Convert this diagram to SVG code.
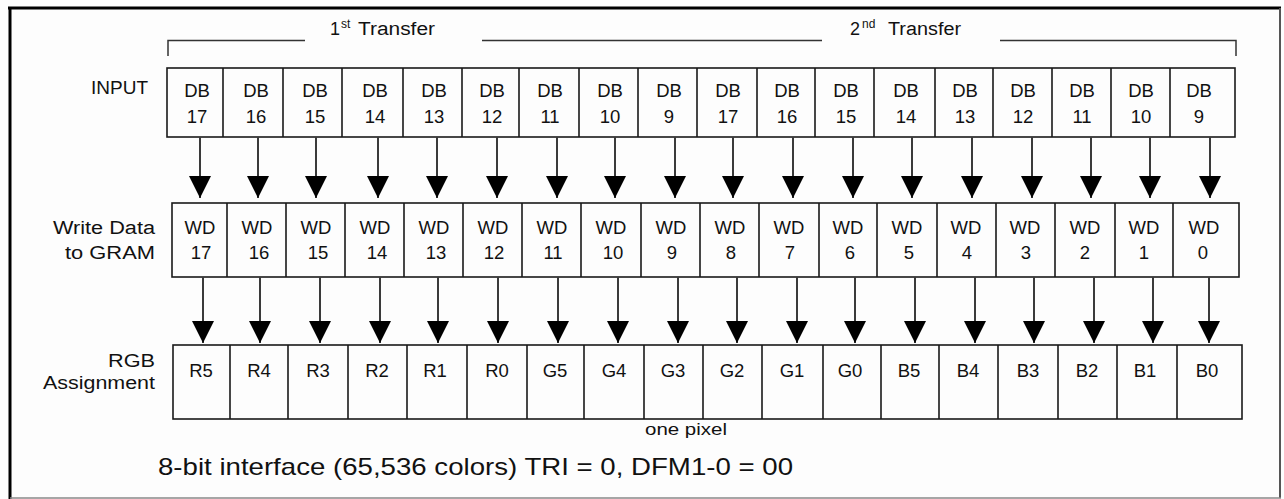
<svg xmlns="http://www.w3.org/2000/svg" width="1284" height="499" viewBox="0 0 1284 499">
<style>
text{font-family:"Liberation Sans",Arial,sans-serif;fill:#111}
.c{font-size:18.5px;text-anchor:middle}
.lab{font-size:18px;text-anchor:end}
.box{fill:none;stroke:#1a1a1a;stroke-width:1.6}
.div{stroke:#1a1a1a;stroke-width:1.6}
.conn line{stroke:#3a3a3a;stroke-width:2;marker-end:url(#ah)}
.br{fill:none;stroke:#333;stroke-width:1.5}
</style>
<defs>
<marker id="ah" viewBox="0 0 22 22" markerWidth="22" markerHeight="22" refX="22" refY="11" orient="auto" markerUnits="userSpaceOnUse">
<path d="M0,0 L22,11 L0,22 z" fill="#000"/>
</marker>
</defs>
<rect width="1284" height="499" fill="#fdfdfd"/>
<g id="frame">
<line x1="8" y1="8" x2="1281" y2="8" stroke="#000" stroke-width="3"/>
<line x1="10" y1="7" x2="10" y2="499" stroke="#000" stroke-width="3"/>
<line x1="1280" y1="8" x2="1280" y2="498" stroke="#555" stroke-width="2"/>
<line x1="10" y1="498" x2="1281" y2="498" stroke="#888" stroke-width="1.5"/>
</g>
<g id="transfer1">
<path class="br" d="M168,56 V40.5 H305 M482,40.5 H822"/>
<text x="330" y="35" font-size="18">1</text>
<text x="341" y="28" font-size="12">st</text>
<text x="358" y="35" font-size="18" textLength="77" lengthAdjust="spacingAndGlyphs">Transfer</text>
</g>
<g id="transfer2">
<path class="br" d="M1000,40.5 H1236 V56"/>
<text x="850" y="35" font-size="18">2</text>
<text x="862" y="28" font-size="12">nd</text>
<text x="888" y="35" font-size="18" textLength="73" lengthAdjust="spacingAndGlyphs">Transfer</text>
</g>
<g id="labels">
<text class="lab" x="148" y="94" textLength="57" lengthAdjust="spacingAndGlyphs">INPUT</text>
<text class="lab" x="155" y="234" textLength="102" lengthAdjust="spacingAndGlyphs">Write Data</text>
<text class="lab" x="155" y="259" textLength="90" lengthAdjust="spacingAndGlyphs">to GRAM</text>
<text class="lab" x="155" y="367" textLength="47" lengthAdjust="spacingAndGlyphs">RGB</text>
<text class="lab" x="155" y="389" textLength="112" lengthAdjust="spacingAndGlyphs">Assignment</text>
</g>
<g id="input-row">
<rect class="box" x="167" y="68" width="1068" height="69"/>
<path class="div" d="M223,68V137M283,68V137M342,68V137M403,68V137M462,68V137M519,68V137M579,68V137M638,68V137M697,68V137M757,68V137M815,68V137M874,68V137M935,68V137M993,68V137M1052,68V137M1111,68V137M1170,68V137"/>
<g id="db17a"><text class="c" x="197" y="97">DB</text><text class="c" x="197" y="123">17</text></g>
<g id="db16a"><text class="c" x="256" y="97">DB</text><text class="c" x="256" y="123">16</text></g>
<g id="db15a"><text class="c" x="315" y="97">DB</text><text class="c" x="315" y="123">15</text></g>
<g id="db14a"><text class="c" x="375" y="97">DB</text><text class="c" x="375" y="123">14</text></g>
<g id="db13a"><text class="c" x="434" y="97">DB</text><text class="c" x="434" y="123">13</text></g>
<g id="db12a"><text class="c" x="492" y="97">DB</text><text class="c" x="492" y="123">12</text></g>
<g id="db11a"><text class="c" x="550" y="97">DB</text><text class="c" x="550" y="123">11</text></g>
<g id="db10a"><text class="c" x="610" y="97">DB</text><text class="c" x="610" y="123">10</text></g>
<g id="db9a"><text class="c" x="669" y="97">DB</text><text class="c" x="669" y="123">9</text></g>
<g id="db17b"><text class="c" x="728" y="97">DB</text><text class="c" x="728" y="123">17</text></g>
<g id="db16b"><text class="c" x="787" y="97">DB</text><text class="c" x="787" y="123">16</text></g>
<g id="db15b"><text class="c" x="846" y="97">DB</text><text class="c" x="846" y="123">15</text></g>
<g id="db14b"><text class="c" x="906" y="97">DB</text><text class="c" x="906" y="123">14</text></g>
<g id="db13b"><text class="c" x="965" y="97">DB</text><text class="c" x="965" y="123">13</text></g>
<g id="db12b"><text class="c" x="1023" y="97">DB</text><text class="c" x="1023" y="123">12</text></g>
<g id="db11b"><text class="c" x="1082" y="97">DB</text><text class="c" x="1082" y="123">11</text></g>
<g id="db10b"><text class="c" x="1141" y="97">DB</text><text class="c" x="1141" y="123">10</text></g>
<g id="db9b"><text class="c" x="1199" y="97">DB</text><text class="c" x="1199" y="123">9</text></g>
</g>
<g id="wd-row">
<rect class="box" x="172" y="203" width="1067" height="74"/>
<path class="div" d="M227,203V277M286,203V277M345,203V277M404,203V277M463,203V277M522,203V277M581,203V277M641,203V277M700,203V277M759,203V277M819,203V277M877,203V277M937,203V277M996,203V277M1055,203V277M1115,203V277M1173,203V277"/>
<g id="wd17"><text class="c" x="200" y="234">WD</text><text class="c" x="201" y="259">17</text></g>
<g id="wd16"><text class="c" x="257" y="234">WD</text><text class="c" x="259" y="259">16</text></g>
<g id="wd15"><text class="c" x="316" y="234">WD</text><text class="c" x="318" y="259">15</text></g>
<g id="wd14"><text class="c" x="375" y="234">WD</text><text class="c" x="377" y="259">14</text></g>
<g id="wd13"><text class="c" x="434" y="234">WD</text><text class="c" x="436" y="259">13</text></g>
<g id="wd12"><text class="c" x="493" y="234">WD</text><text class="c" x="494" y="259">12</text></g>
<g id="wd11"><text class="c" x="552" y="234">WD</text><text class="c" x="553" y="259">11</text></g>
<g id="wd10"><text class="c" x="611" y="234">WD</text><text class="c" x="613" y="259">10</text></g>
<g id="wd9"><text class="c" x="671" y="234">WD</text><text class="c" x="672" y="259">9</text></g>
<g id="wd8"><text class="c" x="730" y="234">WD</text><text class="c" x="731" y="259">8</text></g>
<g id="wd7"><text class="c" x="789" y="234">WD</text><text class="c" x="790" y="259">7</text></g>
<g id="wd6"><text class="c" x="848" y="234">WD</text><text class="c" x="850" y="259">6</text></g>
<g id="wd5"><text class="c" x="907" y="234">WD</text><text class="c" x="909" y="259">5</text></g>
<g id="wd4"><text class="c" x="966" y="234">WD</text><text class="c" x="967" y="259">4</text></g>
<g id="wd3"><text class="c" x="1025" y="234">WD</text><text class="c" x="1026" y="259">3</text></g>
<g id="wd2"><text class="c" x="1085" y="234">WD</text><text class="c" x="1085" y="259">2</text></g>
<g id="wd1"><text class="c" x="1144" y="234">WD</text><text class="c" x="1144" y="259">1</text></g>
<g id="wd0"><text class="c" x="1204" y="234">WD</text><text class="c" x="1203" y="259">0</text></g>
</g>
<g id="rgb-row">
<rect class="box" x="173" y="345" width="1069" height="74"/>
<path class="div" d="M230,345V419M288,345V419M348,345V419M407,345V419M467,345V419M527,345V419M584,345V419M644,345V419M703,345V419M762,345V419M823,345V419M881,345V419M939,345V419M998,345V419M1058,345V419M1117,345V419M1177,345V419"/>
<g id="r5"><text class="c" x="201" y="377">R5</text></g>
<g id="r4"><text class="c" x="259" y="377">R4</text></g>
<g id="r3"><text class="c" x="318" y="377">R3</text></g>
<g id="r2"><text class="c" x="377" y="377">R2</text></g>
<g id="r1"><text class="c" x="435" y="377">R1</text></g>
<g id="r0"><text class="c" x="497" y="377">R0</text></g>
<g id="g5"><text class="c" x="555" y="377">G5</text></g>
<g id="g4"><text class="c" x="614" y="377">G4</text></g>
<g id="g3"><text class="c" x="673" y="377">G3</text></g>
<g id="g2"><text class="c" x="732" y="377">G2</text></g>
<g id="g1"><text class="c" x="792" y="377">G1</text></g>
<g id="g0"><text class="c" x="850" y="377">G0</text></g>
<g id="b5"><text class="c" x="909" y="377">B5</text></g>
<g id="b4"><text class="c" x="968" y="377">B4</text></g>
<g id="b3"><text class="c" x="1028" y="377">B3</text></g>
<g id="b2"><text class="c" x="1087" y="377">B2</text></g>
<g id="b1"><text class="c" x="1145" y="377">B1</text></g>
<g id="b0"><text class="c" x="1207" y="377">B0</text></g>
</g>
<g id="connectors" class="conn">
<line x1="200" y1="137" x2="200" y2="198"/>
<line x1="258" y1="137" x2="258" y2="198"/>
<line x1="316" y1="137" x2="316" y2="198"/>
<line x1="378" y1="137" x2="378" y2="198"/>
<line x1="437" y1="137" x2="437" y2="198"/>
<line x1="497" y1="137" x2="497" y2="198"/>
<line x1="557" y1="137" x2="557" y2="198"/>
<line x1="615" y1="137" x2="615" y2="198"/>
<line x1="675" y1="137" x2="675" y2="198"/>
<line x1="733" y1="137" x2="733" y2="198"/>
<line x1="793" y1="137" x2="793" y2="198"/>
<line x1="853" y1="137" x2="853" y2="198"/>
<line x1="912" y1="137" x2="912" y2="198"/>
<line x1="972" y1="137" x2="972" y2="198"/>
<line x1="1032" y1="137" x2="1032" y2="198"/>
<line x1="1091" y1="137" x2="1091" y2="198"/>
<line x1="1150" y1="137" x2="1150" y2="198"/>
<line x1="1210" y1="137" x2="1210" y2="198"/>
<line x1="203" y1="277" x2="203" y2="343"/>
<line x1="260" y1="277" x2="260" y2="343"/>
<line x1="320" y1="277" x2="320" y2="343"/>
<line x1="380" y1="277" x2="380" y2="343"/>
<line x1="438" y1="277" x2="438" y2="343"/>
<line x1="498" y1="277" x2="498" y2="343"/>
<line x1="558" y1="277" x2="558" y2="343"/>
<line x1="618" y1="277" x2="618" y2="343"/>
<line x1="678" y1="277" x2="678" y2="343"/>
<line x1="737" y1="277" x2="737" y2="343"/>
<line x1="797" y1="277" x2="797" y2="343"/>
<line x1="855" y1="277" x2="855" y2="343"/>
<line x1="915" y1="277" x2="915" y2="343"/>
<line x1="975" y1="277" x2="975" y2="343"/>
<line x1="1034" y1="277" x2="1034" y2="343"/>
<line x1="1094" y1="277" x2="1094" y2="343"/>
<line x1="1153" y1="277" x2="1153" y2="343"/>
<line x1="1209" y1="277" x2="1209" y2="343"/>
</g>
<g id="captions">
<text x="645" y="435" font-size="17" textLength="82" lengthAdjust="spacingAndGlyphs">one pixel</text>
<text x="158" y="475" font-size="24" textLength="635" lengthAdjust="spacingAndGlyphs">8-bit interface (65,536 colors) TRI = 0, DFM1-0 = 00</text>
</g>
</svg>
